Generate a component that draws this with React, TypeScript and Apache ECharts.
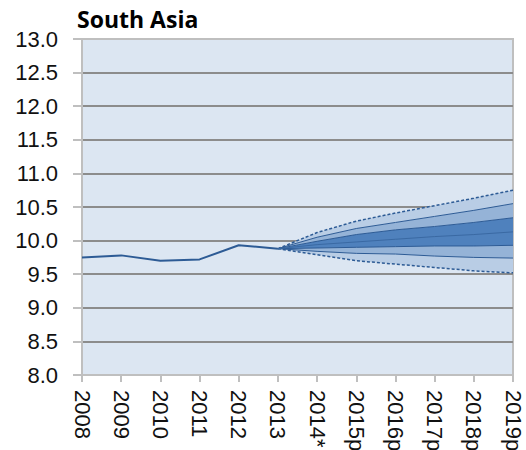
import React, { useEffect, useRef } from "react";
import * as echarts from "echarts";

const years = ["2008", "2009", "2010", "2011", "2012", "2013", "2014*", "2015p", "2016p", "2017p", "2018p", "2019p"];
const history = [9.75, 9.78, 9.70, 9.72, 9.93, 9.88, null, null, null, null, null, null];

// fan values from 2013 to 2019p
const outerLow = [9.88, 9.79, 9.70, 9.65, 9.60, 9.55, 9.52];
const midLow = [9.88, 9.84, 9.81, 9.80, 9.77, 9.75, 9.74];
const innerLow = [9.88, 9.89, 9.90, 9.91, 9.92, 9.92, 9.93];
const central = [9.88, 9.94, 9.98, 10.02, 10.06, 10.09, 10.13];
const innerHigh = [9.88, 9.99, 10.09, 10.16, 10.21, 10.27, 10.34];
const midHigh = [9.88, 10.05, 10.18, 10.27, 10.36, 10.45, 10.55];
const outerHigh = [9.88, 10.12, 10.29, 10.41, 10.52, 10.63, 10.75];

const yTicks = [8.0, 8.5, 9.0, 9.5, 10.0, 10.5, 11.0, 11.5, 12.0, 12.5, 13.0];

const fanStart = years.indexOf("2013");

function pad(arr: (number | null)[]) {
  const out: (number | null)[] = [];
  for (let i = 0; i < fanStart; i++) out.push(null);
  return out.concat(arr);
}
function diff(a: number[], b: number[]) {
  return pad(a.map((v, i) => +(v - b[i]).toFixed(4)));
}

export default function App() {
  const ref = useRef<HTMLDivElement>(null);
  useEffect(() => {
    if (!ref.current) return;
    const chart = echarts.init(ref.current, null, { renderer: "svg" });
    const lineBlue = "#2d5b95";
    const light = "#b9cde5";
    const medium = "#95b3d7";
    const dark = "#4f81bd";
    const fanBase = { type: "line", stack: "fan", symbol: "none", smooth: false, z: 3 };
    const gridColors = yTicks.map((v, i) => (i === 0 || i === yTicks.length - 1 ? "#bfbfbf" : "#8c8c8c"));
    chart.setOption({
      animation: false,
      title: {
        text: "South Asia",
        left: 72,
        top: 2,
        textStyle: { fontFamily: "Open Sans", fontWeight: "bold", fontSize: 23, color: "#000" },
      },
      grid: {
        left: 82,
        right: 13,
        top: 39,
        bottom: 75,
        show: true,
        outerBoundsMode: "none",
        containLabel: false,
        backgroundColor: "#dce6f2",
        borderColor: "#bfbfbf",
        borderWidth: 2,
      },
      xAxis: {
        type: "category",
        data: years,
        boundaryGap: false,
        axisLine: { show: true, lineStyle: { color: "#bfbfbf", width: 2 } },
        axisTick: { show: true, length: 7, lineStyle: { color: "#bfbfbf", width: 2 } },
        axisLabel: {
          rotate: -90,
          margin: 15,
          fontFamily: "Liberation Sans",
          fontSize: 22,
          color: "#111",
          interval: 0,
          hideOverlap: false,
        },
        splitLine: { show: false },
      },
      yAxis: {
        type: "value",
        min: 8,
        max: 13,
        interval: 0.5,
        axisLine: { show: true, lineStyle: { color: "#bfbfbf", width: 2 } },
        axisTick: { show: true, length: 9, lineStyle: { color: "#bfbfbf", width: 2 } },
        axisLabel: {
          margin: 24,
          fontFamily: "Liberation Sans",
          fontSize: 22,
          color: "#111",
          formatter: (v: number) => v.toFixed(1),
        },
        splitLine: { show: true, lineStyle: { color: gridColors, width: 2 } },
      },
      series: [
        {
          ...fanBase,
          name: "outerLow",
          data: pad(outerLow),
          lineStyle: { color: lineBlue, width: 1.5, type: [3, 2] },
        },
        {
          ...fanBase,
          name: "band1",
          data: diff(midLow, outerLow),
          lineStyle: { color: lineBlue, width: 1 },
          areaStyle: { color: light, opacity: 1 },
        },
        {
          ...fanBase,
          name: "band2",
          data: diff(innerLow, midLow),
          lineStyle: { color: lineBlue, width: 1 },
          areaStyle: { color: medium, opacity: 1 },
        },
        {
          ...fanBase,
          name: "band3",
          data: diff(innerHigh, innerLow),
          lineStyle: { color: lineBlue, width: 1 },
          areaStyle: { color: dark, opacity: 1 },
        },
        {
          ...fanBase,
          name: "band4",
          data: diff(midHigh, innerHigh),
          lineStyle: { color: lineBlue, width: 1 },
          areaStyle: { color: medium, opacity: 1 },
        },
        {
          ...fanBase,
          name: "band5",
          data: diff(outerHigh, midHigh),
          lineStyle: { color: lineBlue, width: 1.5, type: [3, 2] },
          areaStyle: { color: light, opacity: 1 },
        },
        {
          type: "line",
          name: "central",
          data: pad(central),
          symbol: "none",
          z: 4,
          lineStyle: { color: "#3a69a3", width: 1 },
        },
        {
          type: "line",
          name: "history",
          data: history,
          symbol: "none",
          z: 5,
          lineStyle: { color: lineBlue, width: 2 },
        },
      ],
    });
    return () => chart.dispose();
  }, []);
  return (
    <div
      ref={ref}
      style={{ position: "absolute", left: 0, top: 0, width: 526, height: 450 }}
    />
  );
}
